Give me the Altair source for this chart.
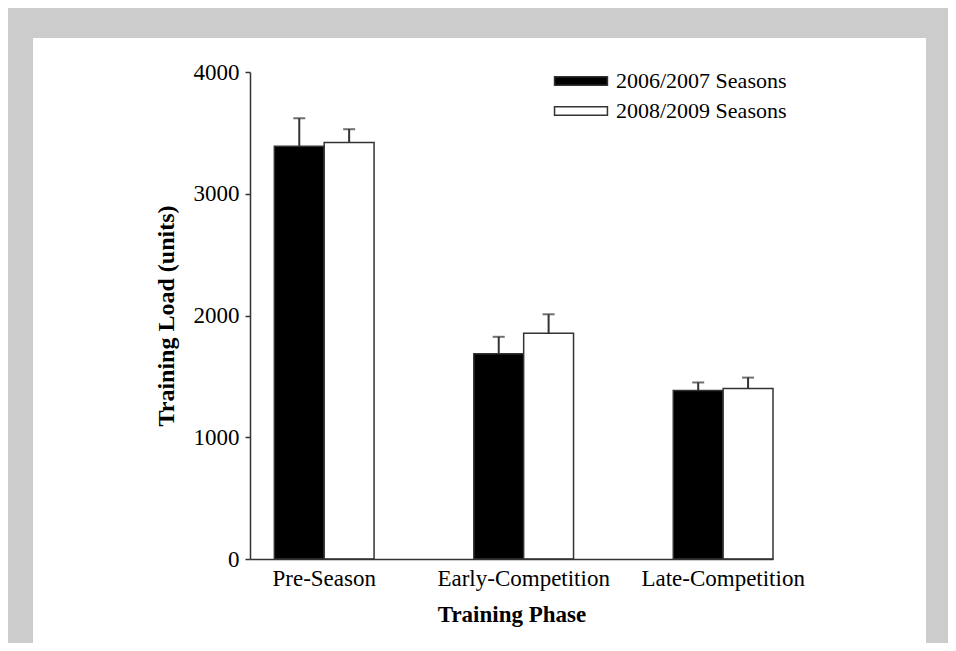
import altair as alt
import pandas as pd

phases = ["Pre-Season", "Early-Competition", "Late-Competition"]
series = ["2006/2007 Seasons", "2008/2009 Seasons"]
means_0607 = [3390, 1685, 1385]
means_0809 = [3420, 1855, 1400]
err_0607 = [230, 140, 65]
err_0809 = [110, 155, 90]

rows = []
for i, p in enumerate(phases):
    rows.append({"phase": p, "series": series[0], "mean": means_0607[i], "upper": means_0607[i] + err_0607[i]})
    rows.append({"phase": p, "series": series[1], "mean": means_0809[i], "upper": means_0809[i] + err_0809[i]})
df = pd.DataFrame(rows)

FONT = "Liberation Serif"
DARK = "#333333"

x_enc = alt.X("phase:N", sort=phases,
              scale=alt.Scale(paddingInner=0.5, paddingOuter=0.061, align=1),
              axis=alt.Axis(title="Training Phase", labelAngle=0, ticks=False,
                            labelPadding=8, titlePadding=13, zindex=1))
xoff = alt.XOffset("series:N", sort=series, scale=alt.Scale(paddingInner=0, paddingOuter=0))
y_scale = alt.Scale(domain=[0, 4000], nice=False)

bg = alt.Chart(alt.Data(values=[{"a": 1}])).mark_rect(color="white").encode(
    x=alt.value(-217), x2=alt.value(676), y=alt.value(-34), y2=alt.value(620)
)

bars = alt.Chart(df).mark_bar(stroke=DARK, strokeWidth=1.5).encode(
    x=x_enc,
    xOffset=xoff,
    y=alt.Y("mean:Q", scale=y_scale,
            axis=alt.Axis(title="Training Load (units)", values=[0, 1000, 2000, 3000, 4000],
                          format="d", tickSize=5, labelPadding=6, titlePadding=15,
                          titleFontSize=24, grid=False, zindex=1)),
    fill=alt.Fill("series:N", sort=series,
                  scale=alt.Scale(domain=series, range=["#000000", "#ffffff"]),
                  legend=alt.Legend(title=None, orient="none", legendX=320, legendY=-2,
                                    symbolType="M-5,-0.8L5,-0.8L5,0.8L-5,0.8Z",
                                    symbolSize=112, symbolStrokeColor=DARK,
                                    symbolStrokeWidth=1.5, labelOffset=24,
                                    rowPadding=8, padding=0, zindex=1, labelLimit=400,
                                    labelFont=FONT, labelFontSize=22, labelColor="#000")),
)

rules = alt.Chart(df).mark_rule(color=DARK, strokeWidth=2).encode(
    x=alt.X("phase:N", sort=phases), xOffset=alt.XOffset("series:N", sort=series),
    y=alt.Y("mean:Q"), y2="upper:Q"
)
caps = alt.Chart(df).mark_tick(color=DARK, thickness=2, size=12, orient="horizontal").encode(
    x=alt.X("phase:N", sort=phases), xOffset=alt.XOffset("series:N", sort=series),
    y=alt.Y("upper:Q")
)

chart = alt.layer(bg, bars, rules, caps).properties(
    width=523, height=487,
    autosize=alt.AutoSizeParams(type="none"),
    padding={"left": 242, "top": 64, "right": 175, "bottom": 84},
    background="#cccccc",
).configure_view(stroke=None).configure_axis(
    domainColor=DARK, domainWidth=1.5, tickColor=DARK, tickWidth=1.5,
    labelFont=FONT, labelFontSize=23, labelColor="#000",
    titleFont=FONT, titleFontSize=23, titleFontWeight="bold", titleColor="#000",
)

chart.save("out.html", embed_options={"renderer": "svg", "actions": False})
